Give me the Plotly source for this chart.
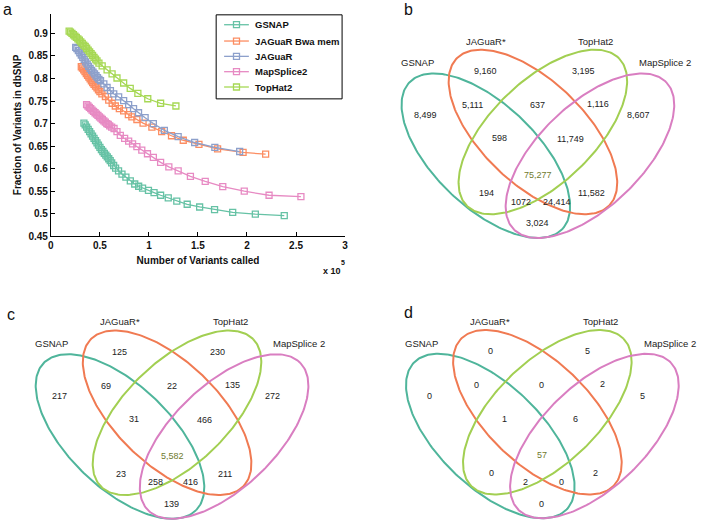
import numpy as np
import plotly.graph_objects as go

W, H = 703, 530

# ---------------- Panel a data (x in units of 1e5 variants) ----------------
gsnap_x = [0.337, 0.35, 0.365, 0.38, 0.395, 0.41, 0.425, 0.44, 0.455, 0.47, 0.485, 0.50, 0.515, 0.53,
           0.545, 0.56, 0.575, 0.59, 0.605, 0.62, 0.64, 0.66, 0.69, 0.725, 0.765, 0.81, 0.855, 0.895,
           0.935, 0.995, 1.052, 1.119, 1.197, 1.284, 1.39, 1.517, 1.669, 1.854, 2.085, 2.38]
gsnap_y = [0.701, 0.697, 0.692, 0.687, 0.682, 0.677, 0.672, 0.667, 0.662, 0.657, 0.652, 0.647, 0.642,
           0.638, 0.634, 0.630, 0.626, 0.622, 0.618, 0.613, 0.607, 0.601, 0.595, 0.588, 0.581, 0.573,
           0.566, 0.561, 0.557, 0.552, 0.547, 0.541, 0.535, 0.528, 0.521, 0.515, 0.509, 0.503, 0.499, 0.496]

bwa_x = [0.31, 0.322, 0.335, 0.348, 0.361, 0.374, 0.387, 0.40, 0.413, 0.426, 0.44, 0.455, 0.47, 0.485,
         0.50, 0.52, 0.556, 0.59, 0.625, 0.657, 0.698, 0.742, 0.79, 0.826, 0.877, 0.94, 1.03, 1.13,
         1.23, 1.35, 1.51, 1.70, 1.96, 2.19]
bwa_y = [0.826, 0.823, 0.819, 0.815, 0.811, 0.807, 0.803, 0.799, 0.795, 0.791, 0.787, 0.783, 0.779,
         0.775, 0.771, 0.766, 0.760, 0.752, 0.745, 0.739, 0.733, 0.728, 0.720, 0.715, 0.709, 0.701,
         0.692, 0.682, 0.673, 0.663, 0.654, 0.644, 0.636, 0.632]

jag_x = [0.253, 0.265, 0.28, 0.295, 0.31, 0.325, 0.34, 0.355, 0.37, 0.385, 0.40, 0.415, 0.43, 0.445,
         0.46, 0.475, 0.49, 0.506, 0.54, 0.573, 0.607, 0.641, 0.691, 0.742, 0.793, 0.843, 0.894, 0.961,
         1.045, 1.157, 1.298, 1.466, 1.672, 1.925]
jag_y = [0.869, 0.866, 0.862, 0.857, 0.852, 0.847, 0.842, 0.837, 0.832, 0.827, 0.822, 0.818, 0.814,
         0.810, 0.806, 0.802, 0.798, 0.795, 0.788, 0.780, 0.773, 0.766, 0.759, 0.751, 0.742, 0.733,
         0.724, 0.713, 0.700, 0.685, 0.671, 0.658, 0.647, 0.638]

map_x = [0.364, 0.378, 0.392, 0.406, 0.42, 0.435, 0.45, 0.465, 0.48, 0.495, 0.51, 0.525, 0.54, 0.555,
         0.57, 0.585, 0.60, 0.62, 0.644, 0.674, 0.708, 0.752, 0.793, 0.833, 0.877, 0.927, 0.985, 1.045,
         1.119, 1.203, 1.298, 1.423, 1.574, 1.753, 1.972, 2.225, 2.55]
map_y = [0.742, 0.739, 0.736, 0.733, 0.730, 0.727, 0.724, 0.721, 0.718, 0.715, 0.712, 0.709, 0.706,
         0.703, 0.700, 0.698, 0.695, 0.692, 0.689, 0.682, 0.674, 0.667, 0.661, 0.655, 0.649, 0.641,
         0.633, 0.625, 0.614, 0.604, 0.595, 0.583, 0.572, 0.560, 0.550, 0.541, 0.538]

top_x = [0.186, 0.20, 0.215, 0.23, 0.245, 0.26, 0.275, 0.29, 0.305, 0.32, 0.335, 0.35, 0.365, 0.38,
         0.395, 0.41, 0.425, 0.44, 0.455, 0.47, 0.49, 0.523, 0.573, 0.624, 0.674, 0.742, 0.809, 0.887,
         0.988, 1.119, 1.275]
top_y = [0.905, 0.903, 0.900, 0.897, 0.894, 0.891, 0.888, 0.885, 0.881, 0.878, 0.874, 0.871, 0.867,
         0.863, 0.859, 0.855, 0.851, 0.847, 0.843, 0.839, 0.834, 0.828, 0.819, 0.810, 0.801, 0.790,
         0.778, 0.767, 0.755, 0.745, 0.739]

series_names = ["GSNAP", "JAGuaR Bwa mem", "JAGuaR", "MapSplice2", "TopHat2"]
series_x = [gsnap_x, bwa_x, jag_x, map_x, top_x]
series_y = [gsnap_y, bwa_y, jag_y, map_y, top_y]
series_colors = ["#66c2a5", "#fc8d62", "#8da0cb", "#e78ac3", "#a6d854"]

x_ticks = [0, 0.5, 1, 1.5, 2, 2.5, 3]
y_ticks = [0.45, 0.5, 0.55, 0.6, 0.65, 0.7, 0.75, 0.8, 0.85, 0.9]

# ---------------- Venn data ----------------
set_names = ["GSNAP", "JAGuaR*", "TopHat2", "MapSplice 2"]
set_colors = ["#4fb59b", "#f07a52", "#a2cf52", "#d97ec1"]
# region order: G, J, T, M, GJ, JT, TM, GJT, JTM, GJTM, GT, JM, GTM, GJM, GM
venn_b = ["8,499", "9,160", "3,195", "8,607", "5,111", "637", "1,116", "598", "11,749",
          "75,277", "194", "11,582", "1072", "24,414", "3,024"]
venn_c = ["217", "125", "230", "272", "69", "22", "135", "31", "466",
          "5,582", "23", "211", "258", "416", "139"]
venn_d = ["0", "0", "5", "5", "0", "0", "2", "1", "6",
          "57", "0", "2", "2", "0", "0"]

# ---------------- layout geometry (pixels) ----------------
region_pos = [(425.7, 116.7), (486.7, 71.7), (585, 71.7), (640.7, 116.7), (473.3, 106),
              (539, 106), (600, 105), (501, 140), (572.7, 140.7), (539.5, 177),
              (487.7, 195), (593.3, 195), (522.7, 204), (558.3, 204), (539, 226)]
label_pos = [(418, 63.5), (486.7, 41.5), (598, 41.5), (668, 63.5)]
ell_a, ell_b = 107, 52
ellipses = [(487, 157.5, 44), (534.5, 133.5, 44), (544.5, 133.5, -44), (592, 157.5, -44)]
panels = [("b", venn_b, 0, 0, (409, 10)), ("c", venn_c, -369, 284, (8.5, 318.5)),
          ("d", venn_d, 4.5, 283.5, (409, 316))]

# legend box geometry (pixels)
leg_box = (215, 15, 342, 100)
leg_rows = [25, 41.5, 57, 72.5, 88]
leg_line = (223, 248)
leg_text_x = 252

font_main = "Arial, Liberation Sans, sans-serif"
fig = go.Figure()

for name, xs, ys, col in zip(series_names, series_x, series_y, series_colors):
    fig.add_trace(go.Scatter(
        x=xs, y=ys, name=name, mode="lines+markers", xaxis="x", yaxis="y",
        line=dict(color=col, width=1.3), showlegend=False,
        marker=dict(symbol="square-open", size=6, color=col, line=dict(width=1.3, color=col)),
    ))

shapes = [dict(type="rect", xref="x2", yref="y2", x0=leg_box[0], y0=leg_box[1],
               x1=leg_box[2], y1=leg_box[3], line=dict(color="black", width=1),
               fillcolor="white", layer="below")]
annotations = []
for name, col, ry in zip(series_names, series_colors, leg_rows):
    fig.add_trace(go.Scatter(x=[leg_line[0], leg_line[1]], y=[ry, ry], mode="lines",
                             xaxis="x2", yaxis="y2", line=dict(color=col, width=1.3),
                             showlegend=False, hoverinfo="skip"))
    fig.add_trace(go.Scatter(x=[(leg_line[0] + leg_line[1]) / 2], y=[ry], mode="markers",
                             xaxis="x2", yaxis="y2", showlegend=False, hoverinfo="skip",
                             marker=dict(symbol="square-open", size=6, color=col,
                                         line=dict(width=1.3, color=col))))
    annotations.append(dict(x=leg_text_x, y=ry, xref="x2", yref="y2", text=name,
                            xanchor="left", yanchor="middle", showarrow=False,
                            font=dict(family=font_main, size=9.5, color="#111111",
                                      weight="bold")))


def ellipse_xy(cx, cy, a, b, ang, n=240):
    t = np.linspace(0, 2 * np.pi, n)
    th = np.deg2rad(ang)
    x = cx + a * np.cos(t) * np.cos(th) - b * np.sin(t) * np.sin(th)
    y = cy + a * np.cos(t) * np.sin(th) + b * np.sin(t) * np.cos(th)
    return x, y


for letter, labels, dx, dy, lp in panels:
    for (cx, cy, ang), col in zip(ellipses, set_colors):
        ex, ey = ellipse_xy(cx + dx, cy + dy, ell_a, ell_b, ang)
        fig.add_trace(go.Scatter(x=ex, y=ey, mode="lines", xaxis="x2", yaxis="y2",
                                 line=dict(color=col, width=2), showlegend=False,
                                 hoverinfo="skip"))
    for k, (txt, (px, py)) in enumerate(zip(labels, region_pos)):
        annotations.append(dict(x=px + dx, y=py + dy, xref="x2", yref="y2", text=txt,
                                showarrow=False,
                                font=dict(family=font_main, size=9,
                                          color="#6f7a2e" if k == 9 else "#222222")))
    for nm, (px, py) in zip(set_names, label_pos):
        annotations.append(dict(x=px + dx, y=py + dy, xref="x2", yref="y2", text=nm,
                                showarrow=False,
                                font=dict(family=font_main, size=9.5, color="#222222")))
    annotations.append(dict(x=lp[0], y=lp[1], xref="x2", yref="y2", text=letter, showarrow=False,
                            font=dict(family=font_main, size=16, color="#111111")))

annotations.append(dict(x=5, y=10, xref="x2", yref="y2", text="a", showarrow=False,
                        font=dict(family=font_main, size=16, color="#111111")))
annotations.append(dict(x=332, y=274, xref="x2", yref="y2", text="x 10", showarrow=False,
                        font=dict(family=font_main, size=9, color="#111111", weight="bold")))
annotations.append(dict(x=343, y=266, xref="x2", yref="y2", text="5", showarrow=False,
                        font=dict(family=font_main, size=7, color="#111111", weight="bold")))

axfont = dict(family=font_main, size=10, color="#111111", weight="bold")
fig.update_layout(
    width=W, height=H, margin=dict(l=0, r=0, t=0, b=0),
    paper_bgcolor="white", plot_bgcolor="rgba(0,0,0,0)",
    showlegend=False,
    xaxis=dict(domain=[48.3 / W, 345 / W], range=[0, 3], tickvals=x_ticks,
               showline=True, linecolor="black", linewidth=1, ticks="inside", ticklen=4,
               tickcolor="black", showgrid=False, zeroline=False, tickfont=axfont,
               title=dict(text="Number of Variants called", font=axfont, standoff=6),
               anchor="y"),
    yaxis=dict(domain=[1 - 239 / H, 1 - 13.7 / H], range=[0.45, 0.944], tickvals=y_ticks,
               showline=True, linecolor="black", linewidth=1, ticks="inside", ticklen=4,
               tickcolor="black", showgrid=False, zeroline=False, tickfont=axfont,
               title=dict(text="Fraction of Variants in dbSNP", font=axfont, standoff=4),
               anchor="x"),
    xaxis2=dict(domain=[0, 1], range=[0, W], visible=False, anchor="y2"),
    yaxis2=dict(domain=[0, 1], range=[H, 0], visible=False, anchor="x2"),
    shapes=shapes,
    annotations=annotations,
)

fig.write_html("out.html", config={"displayModeBar": False},
               post_script="document.body.style.margin='0';")
